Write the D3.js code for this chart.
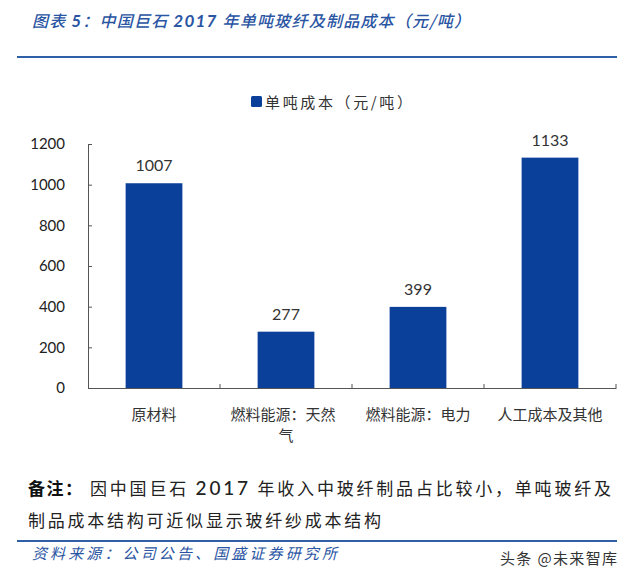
<!DOCTYPE html>
<html>
<head>
<meta charset="utf-8">
<script src="https://cdn.jsdelivr.net/npm/d3@7"></script>
<style>
  html, body { margin: 0; padding: 0; background: #fff; }
  svg { display: block; }
</style>
</head>
<body>
<svg id="chart" width="629" height="582"></svg>
<script>
const categories = ["原材料", "燃料能源：天然气", "燃料能源：电力", "人工成本及其他"];
const values = [1007, 277, 399, 1133];
const yTicks = [0, 200, 400, 600, 800, 1000, 1200];
const seriesName = "单吨成本（元/吨）";
const titleParts = [["图表 ", false], ["5", true], ["：中国巨石 ", false], ["2017", true], [" 年单吨玻纤及制品成本（元/吨）", false]];
const noteBold = "备注：";
const noteParts1 = [["因中国巨石 ", false], ["2017", true], [" 年收入中玻纤制品占比较小，单吨玻纤及", false]];
const noteLine2 = "制品成本结构可近似显示玻纤纱成本结构";
const sourceText = "资料来源：公司公告、国盛证券研究所";
const watermark = "头条 @未来智库";

const svg = d3.select("#chart");
const cjk = "'Noto Sans CJK SC', 'Noto Sans', sans-serif";
const num = "Lato, 'Open Sans', sans-serif";
const blue = "#2a55a3";
const barColor = "#0b409a";

svg.append("rect").attr("width", 629).attr("height", 582).attr("fill", "#fff");

// Title
const tt = svg.append("text")
  .attr("x", 32).attr("y", 27)
  .attr("font-family", cjk).attr("font-size", 16).attr("font-style", "italic").attr("font-weight", 500)
  .attr("fill", blue)
  .attr("textLength", 438).attr("lengthAdjust", "spacing");
titleParts.forEach(([s, b]) => {
  const sp = tt.append("tspan").text(s);
  if (b) sp.attr("font-weight", 700).attr("font-family", num).attr("font-size", 17);
});
svg.append("line").attr("x1", 17).attr("x2", 617).attr("y1", 57).attr("y2", 57)
  .attr("stroke", "#2f5fa7").attr("stroke-width", 2);

// Scales
const x = d3.scaleBand().domain(categories).range([88, 616]).padding(0);
const y = d3.scaleLinear().domain([0, 1200]).range([388, 144]);
const barW = x.bandwidth() * 0.43;

// Legend
svg.append("rect").attr("x", 251).attr("y", 96).attr("width", 11).attr("height", 11)
  .attr("rx", 1.5).attr("fill", barColor);
svg.append("text").attr("x", 265).attr("y", 108)
  .attr("font-family", cjk).attr("font-size", 15).attr("fill", "#333")
  .attr("textLength", 147).attr("lengthAdjust", "spacing")
  .text(seriesName);

// Bars
svg.append("g").selectAll("rect").data(values).join("rect")
  .attr("x", (d, i) => x(categories[i]) + (x.bandwidth() - barW) / 2)
  .attr("width", barW)
  .attr("y", d => y(d))
  .attr("height", d => y(0) - y(d))
  .attr("fill", barColor);

// Value labels
svg.append("g").selectAll("text").data(values).join("text")
  .attr("x", (d, i) => x(categories[i]) + x.bandwidth() / 2)
  .attr("y", d => y(d) - 12)
  .attr("text-anchor", "middle")
  .attr("font-family", num).attr("font-size", 16).attr("fill", "#333")
  .text(d => d);

// Y axis
const yAxis = d3.axisLeft(y).tickValues(yTicks).tickFormat(d3.format("d"))
  .tickSize(-4).tickPadding(23).tickSizeOuter(0);
const yg = svg.append("g").attr("transform", "translate(88,0)").call(yAxis);
yg.select(".domain").attr("stroke", "#555");
yg.selectAll(".tick line").attr("stroke", "#555");
yg.selectAll(".tick text").attr("font-family", num).attr("font-size", 15).attr("fill", "#222");

// X axis
const xAxis = d3.axisBottom(x).tickSize(0).tickFormat("");
const xg = svg.append("g").attr("transform", "translate(0,388)").call(xAxis);
xg.select(".domain").attr("stroke", "#555");
const bounds = categories.map(c => x(c) + x.bandwidth());
xg.selectAll(".bt").data(bounds).join("line")
  .attr("x1", d => d).attr("x2", d => d).attr("y1", 0).attr("y2", -4)
  .attr("stroke", "#555");

// X labels (wrap at 7 chars)
const maxChars = 7;
categories.forEach((c, i) => {
  const lines = [];
  for (let k = 0; k < c.length; k += maxChars) lines.push(c.slice(k, k + maxChars));
  const t = svg.append("text")
    .attr("text-anchor", "middle")
    .attr("font-family", cjk).attr("font-size", 15).attr("fill", "#333");
  lines.forEach((ln, j) => {
    t.append("tspan").attr("x", x(c) + x.bandwidth() / 2 - (lines.length > 1 && j === 0 ? 3 : 0))
      .attr("y", 420 + j * 21).text(ln);
  });
});

// Notes
svg.append("text").attr("x", 28).attr("y", 495)
  .attr("font-family", cjk).attr("font-size", 17).attr("font-weight", 700).attr("fill", "#111")
  .attr("textLength", 54).attr("lengthAdjust", "spacing")
  .text(noteBold);
const n1 = svg.append("text").attr("x", 90).attr("y", 495)
  .attr("font-family", cjk).attr("font-size", 17).attr("fill", "#222")
  .attr("textLength", 521).attr("lengthAdjust", "spacing");
noteParts1.forEach(([s, b]) => {
  const sp = n1.append("tspan").text(s);
  if (b) sp.attr("font-family", num).attr("font-size", 19).attr("font-weight", 500);
});
svg.append("text").attr("x", 28).attr("y", 527)
  .attr("font-family", cjk).attr("font-size", 17).attr("fill", "#222")
  .attr("textLength", 353).attr("lengthAdjust", "spacing")
  .text(noteLine2);

svg.append("line").attr("x1", 17).attr("x2", 617).attr("y1", 541).attr("y2", 541)
  .attr("stroke", "#2f5fa7").attr("stroke-width", 2);

svg.append("text").attr("x", 32).attr("y", 559)
  .attr("font-family", cjk).attr("font-size", 15).attr("font-style", "italic").attr("fill", blue)
  .attr("textLength", 305).attr("lengthAdjust", "spacing")
  .text(sourceText);

svg.append("text").attr("x", 500).attr("y", 564)
  .attr("font-family", cjk).attr("font-size", 15).attr("fill", "#333")
  .attr("textLength", 117).attr("lengthAdjust", "spacing")
  .text(watermark);
</script>
</body>
</html>
